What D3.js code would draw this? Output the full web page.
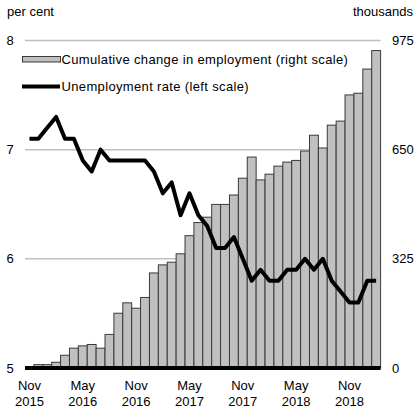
<!DOCTYPE html>
<html>
<head>
<meta charset="utf-8">
<script src="https://cdn.jsdelivr.net/npm/d3@7"></script>
<style>
  body { margin: 0; background: #fff; }
  svg text { font-family: "Liberation Sans", Arial, sans-serif; fill: #000; }
</style>
</head>
<body>
<div id="chart"></div>
<script>
// meses Nov 2015 - Feb 2019
const months = [
  "Nov 2015", "Dec 2015", "Jan 2016", "Feb 2016", "Mar 2016", "Apr 2016", "May 2016", "Jun 2016",
  "Jul 2016", "Aug 2016", "Sep 2016", "Oct 2016", "Nov 2016", "Dec 2016", "Jan 2017", "Feb 2017",
  "Mar 2017", "Apr 2017", "May 2017", "Jun 2017", "Jul 2017", "Aug 2017", "Sep 2017", "Oct 2017",
  "Nov 2017", "Dec 2017", "Jan 2018", "Feb 2018", "Mar 2018", "Apr 2018", "May 2018", "Jun 2018",
  "Jul 2018", "Aug 2018", "Sep 2018", "Oct 2018", "Nov 2018", "Dec 2018", "Jan 2019", "Feb 2019"
];

// cambio acumulado en empleo (miles)
const employmentChange = [
  0, 10, 10, 17, 38, 59, 66, 70, 59, 100, 163, 194, 178, 210, 283, 307,
  315, 340, 394, 433, 449, 487, 487, 515, 565, 628, 560, 577, 601, 613, 618, 646,
  693, 655, 723, 735, 813, 818, 890, 945
];

// tasa de desempleo (%)
const unemploymentRate = [
  7.1, 7.1, 7.2, 7.3, 7.1, 7.1, 6.9, 6.8, 7.0, 6.9, 6.9, 6.9, 6.9, 6.9, 6.8, 6.6,
  6.7, 6.4, 6.6, 6.4, 6.3, 6.1, 6.1, 6.2, 6.0, 5.8, 5.9, 5.8, 5.8, 5.9, 5.9, 6.0,
  5.9, 6.0, 5.8, 5.7, 5.6, 5.6, 5.8, 5.8
];

const leftTicks = [5, 6, 7, 8];
const rightTicks = [0, 325, 650, 975];
const xTickMonths = ["Nov 2015", "May 2016", "Nov 2016", "May 2017", "Nov 2017", "May 2018", "Nov 2018"];

const width = 419, height = 418;
const plot = { left: 25, right: 380.6, top: 40.5, bottom: 368 };

const svg = d3.select("#chart").append("svg")
  .attr("width", width)
  .attr("height", height);

// Escalas
const x = d3.scaleBand()
  .domain(months)
  .range([plot.left, plot.right])
  .padding(0);

const yLeft = d3.scaleLinear().domain([5, 8]).range([plot.bottom, plot.top]);
const yRight = d3.scaleLinear().domain([0, 975]).range([plot.bottom, plot.top]);

// Lineas de guia
svg.append("g")
  .selectAll("line")
  .data(leftTicks.filter(d => d !== 5))
  .join("line")
  .attr("x1", plot.left)
  .attr("x2", plot.right)
  .attr("y1", d => yLeft(d))
  .attr("y2", d => yLeft(d))
  .attr("stroke", "#bfbfbf")
  .attr("stroke-width", 1.5);

// Eje izquierdo
svg.append("g")
  .selectAll("text")
  .data(leftTicks)
  .join("text")
  .attr("x", 10)
  .attr("y", d => yLeft(d))
  .attr("dy", "0.35em")
  .attr("text-anchor", "middle")
  .style("font-size", "13px")
  .text(d => d);

// Eje derecho
svg.append("g")
  .selectAll("text")
  .data(rightTicks)
  .join("text")
  .attr("x", 392)
  .attr("y", d => yRight(d))
  .attr("dy", "0.35em")
  .style("font-size", "13px")
  .text(d => d);

// Barras
const data = months.map((m, i) => ({ month: m, value: employmentChange[i], rate: unemploymentRate[i] }));

svg.append("g")
  .selectAll("rect")
  .data(data.filter(d => d.value > 0))
  .join("rect")
  .attr("x", d => x(d.month))
  .attr("y", d => yRight(d.value))
  .attr("width", x.bandwidth())
  .attr("height", d => yRight(0) - yRight(d.value))
  .attr("fill", "#c0c0c0")
  .attr("stroke", "#3a3a3a")
  .attr("stroke-width", 1);

// Linea base
svg.append("line")
  .attr("x1", plot.left)
  .attr("x2", plot.right)
  .attr("y1", yLeft(5))
  .attr("y2", yLeft(5))
  .attr("stroke", "#000")
  .attr("stroke-width", 4);

// Linea de desempleo
const line = d3.line()
  .x(d => x(d.month) + x.bandwidth() / 2)
  .y(d => yLeft(d.rate));

svg.append("path")
  .datum(data)
  .attr("d", line)
  .attr("fill", "none")
  .attr("stroke", "#000")
  .attr("stroke-width", 4)
  .attr("stroke-linejoin", "round");

// Etiquetas eje X
const xLabels = svg.append("g")
  .selectAll("text")
  .data(xTickMonths)
  .join("text")
  .attr("x", d => x(d) + x.bandwidth() / 2)
  .attr("text-anchor", "middle")
  .style("font-size", "13px");

xLabels.append("tspan")
  .attr("x", d => x(d) + x.bandwidth() / 2)
  .attr("y", 390)
  .text(d => d.split(" ")[0]);

xLabels.append("tspan")
  .attr("x", d => x(d) + x.bandwidth() / 2)
  .attr("y", 406)
  .text(d => d.split(" ")[1]);

// Titulos de ejes
svg.append("text")
  .attr("x", 7)
  .attr("y", 16)
  .style("font-size", "13px")
  .text("per cent");

svg.append("text")
  .attr("x", 413)
  .attr("y", 16)
  .attr("text-anchor", "end")
  .style("font-size", "13px")
  .text("thousands");

// Leyenda
const legend = svg.append("g");

legend.append("rect")
  .attr("x", 22.5)
  .attr("y", 56.5)
  .attr("width", 38)
  .attr("height", 5.5)
  .attr("fill", "#c0c0c0")
  .attr("stroke", "#3a3a3a")
  .attr("stroke-width", 1);

legend.append("text")
  .attr("x", 61.5)
  .attr("y", 59)
  .attr("dy", "0.35em")
  .style("font-size", "13px")
  .style("letter-spacing", "0.35px")
  .text("Cumulative change in employment (right scale)");

legend.append("line")
  .attr("x1", 22)
  .attr("x2", 60)
  .attr("y1", 86.5)
  .attr("y2", 86.5)
  .attr("stroke", "#000")
  .attr("stroke-width", 4);

legend.append("text")
  .attr("x", 61.5)
  .attr("y", 86.5)
  .attr("dy", "0.35em")
  .style("font-size", "13px")
  .style("letter-spacing", "0.35px")
  .text("Unemployment rate (left scale)");
</script>
</body>
</html>
